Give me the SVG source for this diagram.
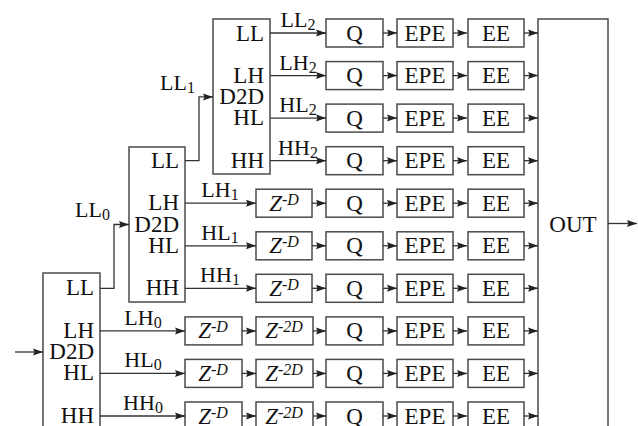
<svg xmlns="http://www.w3.org/2000/svg" width="638" height="426" viewBox="0 0 638 426">
<style>
  .box { fill: #fff; stroke: #4a4a4a; stroke-width: 1.5; }
  .ln { fill: none; stroke: #333; stroke-width: 1.3; }
  .t { font-family: "Liberation Serif", "Times New Roman", serif; font-size: 23px; fill: #111; }
  .lb { font-family: "Liberation Serif", "Times New Roman", serif; font-size: 22px; fill: #111; }
  .c { text-anchor: middle; }
  .e { text-anchor: end; }
  .i { font-style: italic; }
</style>
<defs>
  <marker id="ah" markerUnits="userSpaceOnUse" markerWidth="11" markerHeight="8" refX="10" refY="4" orient="auto">
    <path d="M0,0.5 L10,4 L0,7.5 L1.5,4 Z" fill="#222"/>
  </marker>
</defs>

<!-- level boxes -->
<g id="d2d2"><rect class="box" x="213" y="19" width="57" height="155"/>
  <text class="t e" x="264" y="40.5">LL</text>
  <text class="t e" x="264" y="82.6">LH</text>
  <text class="t e" x="264" y="103.8">D2D</text>
  <text class="t e" x="264" y="125.1">HL</text>
  <text class="t e" x="264" y="167.7">HH</text>
</g>
<g id="d2d1"><rect class="box" x="129" y="147" width="56" height="155"/>
  <text class="t e" x="179" y="167.7">LL</text>
  <text class="t e" x="179" y="210.2">LH</text>
  <text class="t e" x="179" y="231.5">D2D</text>
  <text class="t e" x="179" y="252.8">HL</text>
  <text class="t e" x="179" y="295.3">HH</text>
</g>
<g id="d2d0"><rect class="box" x="43" y="273" width="57" height="170"/>
  <text class="t e" x="94" y="295.3">LL</text>
  <text class="t e" x="94" y="337.9">LH</text>
  <text class="t e" x="94" y="359.1">D2D</text>
  <text class="t e" x="94" y="380.4">HL</text>
  <text class="t e" x="94" y="423">HH</text>
</g>
<g id="out"><rect class="box" x="538" y="19" width="70" height="420"/>
  <text class="t c" x="573" y="231.5">OUT</text>
</g>

<!-- Z^-D boxes level 1 rows -->
<g id="zd5"><rect class="box" x="256" y="189.2" width="56" height="28"/><text class="t c" x="284" y="210.7"><tspan class="i">Z</tspan><tspan font-size="16" dy="-6">-</tspan><tspan font-size="16" class="i">D</tspan></text></g>
<g id="zd6"><rect class="box" x="256" y="231.8" width="56" height="28"/><text class="t c" x="284" y="253.3"><tspan class="i">Z</tspan><tspan font-size="16" dy="-6">-</tspan><tspan font-size="16" class="i">D</tspan></text></g>
<g id="zd7"><rect class="box" x="256" y="274.3" width="56" height="28"/><text class="t c" x="284" y="295.8"><tspan class="i">Z</tspan><tspan font-size="16" dy="-6">-</tspan><tspan font-size="16" class="i">D</tspan></text></g>

<!-- Z^-D and Z^-2D boxes level 0 rows -->
<g id="zd8"><rect class="box" x="185" y="316.9" width="57" height="28"/><text class="t c" x="213" y="338.4"><tspan class="i">Z</tspan><tspan font-size="16" dy="-6">-</tspan><tspan font-size="16" class="i">D</tspan></text></g>
<g id="zd9"><rect class="box" x="185" y="359.4" width="57" height="28"/><text class="t c" x="213" y="380.9"><tspan class="i">Z</tspan><tspan font-size="16" dy="-6">-</tspan><tspan font-size="16" class="i">D</tspan></text></g>
<g id="zd10"><rect class="box" x="185" y="402" width="57" height="28"/><text class="t c" x="213" y="423.5"><tspan class="i">Z</tspan><tspan font-size="16" dy="-6">-</tspan><tspan font-size="16" class="i">D</tspan></text></g>
<g id="z2d8"><rect class="box" x="256" y="316.9" width="57" height="28"/><text class="t c" x="284" y="338.4"><tspan class="i">Z</tspan><tspan font-size="16" dy="-6">-</tspan><tspan font-size="16" class="i">2D</tspan></text></g>
<g id="z2d9"><rect class="box" x="256" y="359.4" width="57" height="28"/><text class="t c" x="284" y="380.9"><tspan class="i">Z</tspan><tspan font-size="16" dy="-6">-</tspan><tspan font-size="16" class="i">2D</tspan></text></g>
<g id="z2d10"><rect class="box" x="256" y="402" width="57" height="28"/><text class="t c" x="284" y="423.5"><tspan class="i">Z</tspan><tspan font-size="16" dy="-6">-</tspan><tspan font-size="16" class="i">2D</tspan></text></g>

<!-- Q / EPE / EE chains -->
<g id="q1"><rect class="box" x="326" y="19" width="57" height="28"/><text class="t c" x="354.5" y="40.5">Q</text></g>
<g id="q2"><rect class="box" x="326" y="61.6" width="57" height="28"/><text class="t c" x="354.5" y="83.1">Q</text></g>
<g id="q3"><rect class="box" x="326" y="104.1" width="57" height="28"/><text class="t c" x="354.5" y="125.6">Q</text></g>
<g id="q4"><rect class="box" x="326" y="146.7" width="57" height="28"/><text class="t c" x="354.5" y="168.2">Q</text></g>
<g id="q5"><rect class="box" x="326" y="189.2" width="57" height="28"/><text class="t c" x="354.5" y="210.7">Q</text></g>
<g id="q6"><rect class="box" x="326" y="231.8" width="57" height="28"/><text class="t c" x="354.5" y="253.3">Q</text></g>
<g id="q7"><rect class="box" x="326" y="274.3" width="57" height="28"/><text class="t c" x="354.5" y="295.8">Q</text></g>
<g id="q8"><rect class="box" x="326" y="316.9" width="57" height="28"/><text class="t c" x="354.5" y="338.4">Q</text></g>
<g id="q9"><rect class="box" x="326" y="359.4" width="57" height="28"/><text class="t c" x="354.5" y="380.9">Q</text></g>
<g id="q10"><rect class="box" x="326" y="402" width="57" height="28"/><text class="t c" x="354.5" y="423.5">Q</text></g>

<g id="epe1"><rect class="box" x="397" y="19" width="56" height="28"/><text class="t c" x="425" y="40.5">EPE</text></g>
<g id="epe2"><rect class="box" x="397" y="61.6" width="56" height="28"/><text class="t c" x="425" y="83.1">EPE</text></g>
<g id="epe3"><rect class="box" x="397" y="104.1" width="56" height="28"/><text class="t c" x="425" y="125.6">EPE</text></g>
<g id="epe4"><rect class="box" x="397" y="146.7" width="56" height="28"/><text class="t c" x="425" y="168.2">EPE</text></g>
<g id="epe5"><rect class="box" x="397" y="189.2" width="56" height="28"/><text class="t c" x="425" y="210.7">EPE</text></g>
<g id="epe6"><rect class="box" x="397" y="231.8" width="56" height="28"/><text class="t c" x="425" y="253.3">EPE</text></g>
<g id="epe7"><rect class="box" x="397" y="274.3" width="56" height="28"/><text class="t c" x="425" y="295.8">EPE</text></g>
<g id="epe8"><rect class="box" x="397" y="316.9" width="56" height="28"/><text class="t c" x="425" y="338.4">EPE</text></g>
<g id="epe9"><rect class="box" x="397" y="359.4" width="56" height="28"/><text class="t c" x="425" y="380.9">EPE</text></g>
<g id="epe10"><rect class="box" x="397" y="402" width="56" height="28"/><text class="t c" x="425" y="423.5">EPE</text></g>

<g id="ee1"><rect class="box" x="468" y="19" width="56" height="28"/><text class="t c" x="496" y="40.5">EE</text></g>
<g id="ee2"><rect class="box" x="468" y="61.6" width="56" height="28"/><text class="t c" x="496" y="83.1">EE</text></g>
<g id="ee3"><rect class="box" x="468" y="104.1" width="56" height="28"/><text class="t c" x="496" y="125.6">EE</text></g>
<g id="ee4"><rect class="box" x="468" y="146.7" width="56" height="28"/><text class="t c" x="496" y="168.2">EE</text></g>
<g id="ee5"><rect class="box" x="468" y="189.2" width="56" height="28"/><text class="t c" x="496" y="210.7">EE</text></g>
<g id="ee6"><rect class="box" x="468" y="231.8" width="56" height="28"/><text class="t c" x="496" y="253.3">EE</text></g>
<g id="ee7"><rect class="box" x="468" y="274.3" width="56" height="28"/><text class="t c" x="496" y="295.8">EE</text></g>
<g id="ee8"><rect class="box" x="468" y="316.9" width="56" height="28"/><text class="t c" x="496" y="338.4">EE</text></g>
<g id="ee9"><rect class="box" x="468" y="359.4" width="56" height="28"/><text class="t c" x="496" y="380.9">EE</text></g>
<g id="ee10"><rect class="box" x="468" y="402" width="56" height="28"/><text class="t c" x="496" y="423.5">EE</text></g>

<!-- connectors -->
<g id="connectors" class="ln" marker-end="url(#ah)">
  <!-- input / output -->
  <path d="M15,352 H43"/>
  <path d="M608,223.5 H637"/>
  <!-- LL feedback -->
  <path d="M100,288.3 H114 V224.5 H129"/>
  <path d="M185,160.7 H199 V96.9 H213"/>
  <!-- level 2 outputs -->
  <path d="M270,33 H326"/>
  <path d="M270,75.6 H326"/>
  <path d="M270,118.1 H326"/>
  <path d="M270,160.7 H326"/>
  <!-- level 1 outputs -->
  <path d="M185,203.2 H256"/>
  <path d="M185,245.8 H256"/>
  <path d="M185,288.3 H256"/>
  <path d="M312,203.2 H326"/>
  <path d="M312,245.8 H326"/>
  <path d="M312,288.3 H326"/>
  <!-- level 0 outputs -->
  <path d="M100,330.9 H185"/>
  <path d="M100,373.4 H185"/>
  <path d="M100,416 H185"/>
  <path d="M242,330.9 H256"/>
  <path d="M242,373.4 H256"/>
  <path d="M242,416 H256"/>
  <path d="M313,330.9 H326"/>
  <path d="M313,373.4 H326"/>
  <path d="M313,416 H326"/>
  <!-- Q to EPE -->
  <path d="M383,33 H397"/><path d="M383,75.6 H397"/><path d="M383,118.1 H397"/><path d="M383,160.7 H397"/><path d="M383,203.2 H397"/>
  <path d="M383,245.8 H397"/><path d="M383,288.3 H397"/><path d="M383,330.9 H397"/><path d="M383,373.4 H397"/><path d="M383,416 H397"/>
  <!-- EPE to EE -->
  <path d="M453,33 H467"/><path d="M453,75.6 H467"/><path d="M453,118.1 H467"/><path d="M453,160.7 H467"/><path d="M453,203.2 H467"/>
  <path d="M453,245.8 H467"/><path d="M453,288.3 H467"/><path d="M453,330.9 H467"/><path d="M453,373.4 H467"/><path d="M453,416 H467"/>
  <!-- EE to OUT -->
  <path d="M524,33 H538"/><path d="M524,75.6 H538"/><path d="M524,118.1 H538"/><path d="M524,160.7 H538"/><path d="M524,203.2 H538"/>
  <path d="M524,245.8 H538"/><path d="M524,288.3 H538"/><path d="M524,330.9 H538"/><path d="M524,373.4 H538"/><path d="M524,416 H538"/>
</g>

<!-- connector labels -->
<g id="labels">
  <text class="lb" x="160" y="90">LL<tspan font-size="16" dy="3">1</tspan></text>
  <text class="lb" x="75" y="217">LL<tspan font-size="16" dy="3">0</tspan></text>
  <text class="lb c" x="298" y="27">LL<tspan font-size="16" dy="3">2</tspan></text>
  <text class="lb c" x="298" y="69.6">LH<tspan font-size="16" dy="3">2</tspan></text>
  <text class="lb c" x="298" y="112.1">HL<tspan font-size="16" dy="3">2</tspan></text>
  <text class="lb c" x="298" y="154.7">HH<tspan font-size="16" dy="3">2</tspan></text>
  <text class="lb c" x="220" y="197.2">LH<tspan font-size="16" dy="3">1</tspan></text>
  <text class="lb c" x="220" y="239.8">HL<tspan font-size="16" dy="3">1</tspan></text>
  <text class="lb c" x="220" y="282.3">HH<tspan font-size="16" dy="3">1</tspan></text>
  <text class="lb c" x="143" y="324.9">LH<tspan font-size="16" dy="3">0</tspan></text>
  <text class="lb c" x="143" y="367.4">HL<tspan font-size="16" dy="3">0</tspan></text>
  <text class="lb c" x="143" y="410">HH<tspan font-size="16" dy="3">0</tspan></text>
</g>
</svg>
